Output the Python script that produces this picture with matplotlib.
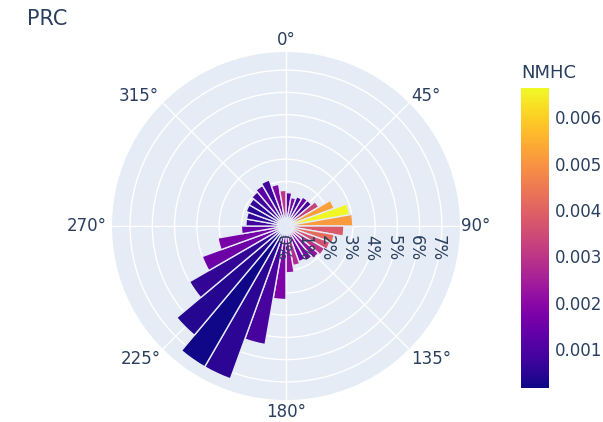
import numpy as np
import matplotlib
matplotlib.use("Agg")
import matplotlib.pyplot as plt
import matplotlib.transforms as mtransforms

# wind direction bins (deg, bin centres), share of time (%) and mean NMHC
direction = [5, 15, 25, 35, 45, 55, 65, 75, 85, 95, 105, 115, 125, 135, 145, 155, 165, 175,
             185, 195, 205, 215, 225, 235, 245, 255, 265, 275, 285, 295, 305, 315, 325, 335, 345, 355]
frequency = [1.5, 1.3, 1.4, 1.5, 1.5, 1.7, 2.3, 2.9, 3.0, 2.6, 2.2, 2.1, 2.0, 1.9, 1.8, 1.7, 1.8, 2.1,
             3.3, 5.4, 7.3, 7.3, 6.4, 5.0, 4.0, 3.1, 2.0, 1.8, 1.8, 1.9, 1.9, 2.0, 2.1, 2.2, 1.9, 1.6]
nmhc = [0.0012, 0.0018, 0.0008, 0.0014, 0.0009, 0.0033, 0.0052, 0.0066, 0.0051, 0.0038, 0.0042, 0.0036,
        0.0030, 0.0022, 0.0018, 0.0015, 0.0028, 0.0022, 0.0018, 0.0009, 0.0005, 0.0002, 0.0004, 0.0006,
        0.0015, 0.0017, 0.0014, 0.0008, 0.0006, 0.0005, 0.0006, 0.0008, 0.0012, 0.0008, 0.0018, 0.0030]
r_ticks = [0, 1, 2, 3, 4, 5, 6, 7]
angle_ticks = [0, 45, 90, 135, 180, 225, 270, 315]

txt = "#2a3f5f"
plt.rcParams['font.family'] = ['DejaVu Sans']

fig = plt.figure(figsize=(6.03, 4.22), dpi=100)
ax = fig.add_axes([0.1857, 0.0521, 0.5771, 0.8246], projection='polar')
ax.set_facecolor('#E5ECF6')
ax.spines['polar'].set_visible(False)
ax.set_theta_zero_location('N')
ax.set_theta_direction(-1)

cmap = plt.get_cmap('plasma')
norm = plt.Normalize(0.00016, 0.00663)
theta = np.deg2rad(direction)
ax.bar(theta, frequency, width=np.deg2rad(10), color=cmap(norm(nmhc)),
       edgecolor='#E5ECF6', linewidth=1, zorder=3)

rmax = max(frequency) * 1.07
ax.set_ylim(0, rmax)
ax.set_yticks(r_ticks)
ax.set_yticklabels([])
ax.set_xticks(np.deg2rad(angle_ticks))
ax.set_xticklabels([])
ax.grid(color='white', linewidth=1)

# angular labels placed just outside the circle, anchored on their nearest side
anchors = {0: ('center', 'bottom', 0, 3), 45: ('left', 'bottom', 2, -2),
           90: ('left', 'center', 1, 0), 135: ('left', 'top', 2, -1),
           180: ('center', 'top', 0, -3), 225: ('right', 'top', -2, -1),
           270: ('right', 'center', -5, 0), 315: ('right', 'bottom', -4, -2)}
for a in angle_ticks:
    ha, va, dx, dy = anchors[a]
    tr = mtransforms.offset_copy(ax.transData, fig=fig, x=dx, y=dy, units='dots')
    ax.text(np.deg2rad(a), rmax, f"{a}°", transform=tr, ha=ha, va=va,
            color=txt, fontsize=12, clip_on=False)

# radial labels along the 90° direction, rotated like plotly does
off = mtransforms.offset_copy(ax.transData, fig=fig, x=-4, y=-9, units='dots')
for r in r_ticks:
    ax.text(np.deg2rad(90), r, f"{r}%", transform=off, rotation=-90,
            ha='center', va='top', color=txt, fontsize=12, zorder=4)

fig.text(0.045, 0.955, "PRC", ha='left', va='center', color=txt, fontsize=15)

cax = fig.add_axes([0.864, 0.0806, 0.0464, 0.711])
sm = plt.cm.ScalarMappable(norm=norm, cmap=cmap)
cb = fig.colorbar(sm, cax=cax)
cb.outline.set_visible(False)
cb.set_ticks([0.001, 0.002, 0.003, 0.004, 0.005, 0.006])
cb.set_ticklabels(["0.001", "0.002", "0.003", "0.004", "0.005", "0.006"])
cax.tick_params(length=0, pad=4, labelsize=12, labelcolor=txt)
fig.text(0.864, 0.827, "NMHC", ha='left', va='center', color=txt, fontsize=13)

fig.savefig("out.png", dpi=100)
